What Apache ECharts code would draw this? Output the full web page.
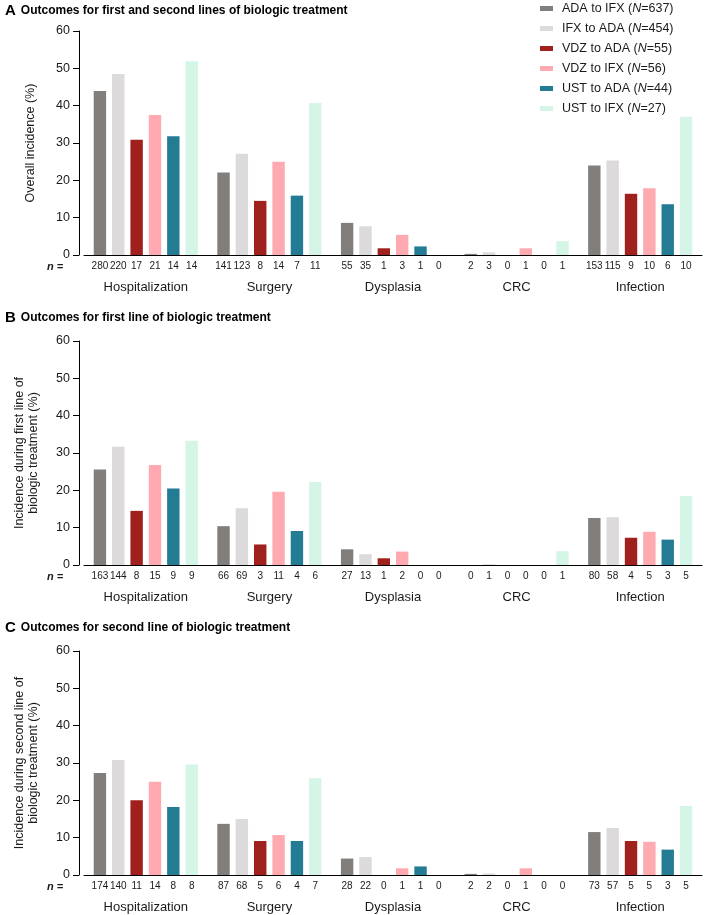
<!DOCTYPE html>
<html>
<head>
<meta charset="utf-8">
<script src="https://cdn.jsdelivr.net/npm/echarts@6/dist/echarts.min.js"></script>
<style>
  html, body { margin: 0; padding: 0; background: #fff; }
  #main { width: 708px; height: 915px; }
</style>
</head>
<body>
<div id="main"></div>
<script>
var categories = ['Hospitalization', 'Surgery', 'Dysplasia', 'CRC', 'Infection'];
var groupNames = ['ADA to IFX', 'IFX to ADA', 'VDZ to ADA', 'VDZ to IFX', 'UST to ADA', 'UST to IFX'];
var groupN = [637, 454, 55, 56, 44, 27];
var groupColors = ['#827e7b', '#dcdadb', '#a0201e', '#ffaab0', '#237b94', '#d5f5e6'];

// incidence (%) per group, per outcome -- panel A: first and second lines
var pctA = [
  [43.9, 22.1, 8.6, 0.3, 24.0],
  [48.5, 27.1, 7.7, 0.7, 25.3],
  [30.9, 14.5, 1.8, 0.0, 16.4],
  [37.5, 25.0, 5.4, 1.8, 17.9],
  [31.8, 15.9, 2.3, 0.0, 13.6],
  [51.9, 40.7, 0.0, 3.7, 37.0]
];
var nA = [
  [280, 141, 55, 2, 153],
  [220, 123, 35, 3, 115],
  [17, 8, 1, 0, 9],
  [21, 14, 3, 1, 10],
  [14, 7, 1, 0, 6],
  [14, 11, 0, 1, 10]
];
// panel B: first line
var pctB = [
  [25.6, 10.4, 4.2, 0.0, 12.6],
  [31.7, 15.2, 2.9, 0.2, 12.8],
  [14.5, 5.5, 1.8, 0.0, 7.3],
  [26.8, 19.6, 3.6, 0.0, 8.9],
  [20.5, 9.1, 0.0, 0.0, 6.8],
  [33.3, 22.2, 0.0, 3.7, 18.5]
];
var nB = [
  [163, 66, 27, 0, 80],
  [144, 69, 13, 1, 58],
  [8, 3, 1, 0, 4],
  [15, 11, 2, 0, 5],
  [9, 4, 0, 0, 3],
  [9, 6, 0, 1, 5]
];
// panel C: second line
var pctC = [
  [27.3, 13.7, 4.4, 0.3, 11.5],
  [30.8, 15.0, 4.8, 0.4, 12.6],
  [20.0, 9.1, 0.0, 0.0, 9.1],
  [25.0, 10.7, 1.8, 1.8, 8.9],
  [18.2, 9.1, 2.3, 0.0, 6.8],
  [29.6, 25.9, 0.0, 0.0, 18.5]
];
var nC = [
  [174, 87, 28, 2, 73],
  [140, 68, 22, 2, 57],
  [11, 5, 0, 0, 5],
  [14, 6, 1, 1, 5],
  [8, 4, 1, 0, 3],
  [8, 7, 0, 0, 5]
];

var FONT = '"Liberation Sans", Arial, sans-serif';
var TEXT = '#1a1a1a';

var panels = [
  { pct: pctA, n: nA, top: 31, yName: 'Overall incidence (%)', gap: 41 },
  { pct: pctB, n: nB, top: 341, yName: 'Incidence during first line of\nbiologic treatment (%)', gap: 38 },
  { pct: pctC, n: nC, top: 651, yName: 'Incidence during second line of\nbiologic treatment (%)', gap: 38 }
];

var grids = [], xAxes = [], yAxes = [], series = [];
panels.forEach(function (p, pi) {
  grids.push({ left: 84, width: 618, top: p.top, height: 224 });
  xAxes.push({
    type: 'category', gridIndex: pi, data: categories,
    axisLine: { lineStyle: { color: '#000', width: 1 } },
    axisTick: { show: false },
    axisLabel: { margin: 26, fontFamily: FONT, fontSize: 13, color: TEXT }
  });
  yAxes.push({
    type: 'value', gridIndex: pi, min: 0, max: 60, interval: 10, offset: 5,
    name: p.yName, nameLocation: 'middle', nameGap: p.gap,
    nameTextStyle: { fontFamily: FONT, fontSize: 12.5, color: TEXT, lineHeight: 14 },
    axisLine: { show: true, lineStyle: { color: '#000', width: 1 } },
    axisTick: { show: true, length: 6, lineStyle: { color: '#000' } },
    axisLabel: { fontFamily: FONT, fontSize: 12.5, color: TEXT, margin: 9 },
    splitLine: { show: false }
  });
  groupNames.forEach(function (g, gi) {
    var nRow = p.n[gi];
    series.push({
      name: g, type: 'bar', xAxisIndex: pi, yAxisIndex: pi,
      data: p.pct[gi],
      barWidth: 12.4, barGap: '48%',
      itemStyle: { color: groupColors[gi] },
      label: {
        show: true, position: 'bottom', distance: 6,
        fontFamily: FONT, fontSize: 10, color: TEXT,
        formatter: function (d) { return String(nRow[d.dataIndex]); }
      },
      emphasis: { disabled: true }
    });
  });
});

var titleRich = {
  a: { fontFamily: FONT, fontWeight: 'bold', fontSize: 15, color: '#000' },
  b: { fontFamily: FONT, fontWeight: 'bold', fontSize: 12, color: '#000' }
};

var option = {
  animation: false,
  textStyle: { fontFamily: FONT },
  title: [
    { text: '{a|A} {b|Outcomes for first and second lines of biologic treatment}', left: 0, top: -3,
      textStyle: { rich: titleRich } },
    { text: '{a|B} {b|Outcomes for first line of biologic treatment}', left: 0, top: 304,
      textStyle: { rich: titleRich } },
    { text: '{a|C} {b|Outcomes for second line of biologic treatment}', left: 0, top: 614,
      textStyle: { rich: titleRich } }
  ],
  legend: {
    orient: 'vertical', left: 535, top: -3, itemWidth: 13, itemHeight: 5, itemGap: 7,
    icon: 'rect', selectedMode: false,
    data: groupNames,
    formatter: function (name) {
      var i = groupNames.indexOf(name);
      return name + ' ({n|N}=' + groupN[i] + ')';
    },
    textStyle: {
      fontFamily: FONT, fontSize: 12.5, color: TEXT, padding: [0, 0, 0, 4],
      rich: { n: { fontStyle: 'italic', fontFamily: FONT, fontSize: 12.5, color: TEXT } }
    }
  },
  graphic: [0, 1, 2].map(function (pi) {
    return {
      type: 'text', left: 47, top: panels[pi].top + 224 + 6,
      style: { text: 'n =', font: 'italic bold 11px ' + FONT, fill: TEXT }
    };
  }),
  grid: grids,
  xAxis: xAxes,
  yAxis: yAxes,
  series: series
};

var myChart = echarts.init(document.getElementById('main'));
myChart.setOption(option);
</script>
</body>
</html>
